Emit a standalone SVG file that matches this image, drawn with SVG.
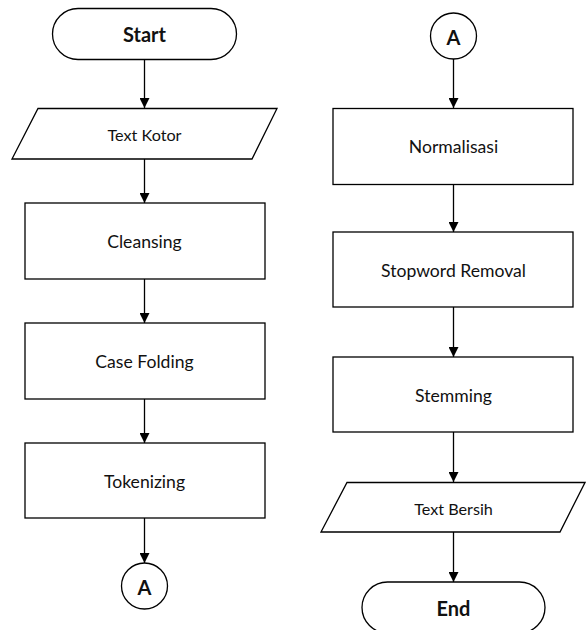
<svg xmlns="http://www.w3.org/2000/svg" width="586" height="630" viewBox="0 0 586 630">
<defs>
<marker id="arr" viewBox="0 0 10 10" refX="10" refY="5" markerWidth="10" markerHeight="10" markerUnits="userSpaceOnUse" orient="auto">
<path d="M0,0 L10,5 L0,10 Z" fill="#000"/>
</marker>
<style>
.s{fill:#fff;stroke:#000;stroke-width:1.3}
.t{font-family:Lato,"Open Sans","Liberation Sans",sans-serif;font-size:17.6px;fill:#111;text-anchor:middle;dominant-baseline:central}
.ts{font-size:16.2px}
.b{font-weight:bold;font-size:20px}
.c{stroke:#000;stroke-width:1.3;fill:none;marker-end:url(#arr)}
</style>
</defs>
<rect width="586" height="630" fill="#fff"/>
<g id="connectors">
<line class="c" x1="144.5" y1="59" x2="144.5" y2="108"/>
<line class="c" x1="144.5" y1="159" x2="144.5" y2="203"/>
<line class="c" x1="144.5" y1="279" x2="144.5" y2="323"/>
<line class="c" x1="144.5" y1="399" x2="144.5" y2="443"/>
<line class="c" x1="144.5" y1="518" x2="144.5" y2="563"/>
<line class="c" x1="453.5" y1="59" x2="453.5" y2="108"/>
<line class="c" x1="453.5" y1="185" x2="453.5" y2="232"/>
<line class="c" x1="453.5" y1="307" x2="453.5" y2="357"/>
<line class="c" x1="453.5" y1="432" x2="453.5" y2="482"/>
<line class="c" x1="453.5" y1="532" x2="453.5" y2="582"/>
</g>
<g id="start">
<rect class="s" x="52.5" y="8.5" width="184" height="51" rx="25.5"/>
<text class="t b" x="144.5" y="34">Start</text>
</g>
<g id="text-kotor">
<polygon class="s" points="38,108.5 277,108.5 252,159 12,159"/>
<text class="t ts" x="144.5" y="134">Text Kotor</text>
</g>
<g id="cleansing">
<rect class="s" x="25" y="203" width="240" height="76"/>
<text class="t" x="144.5" y="241">Cleansing</text>
</g>
<g id="case-folding">
<rect class="s" x="25" y="323" width="240" height="76"/>
<text class="t" x="144.5" y="361">Case Folding</text>
</g>
<g id="tokenizing">
<rect class="s" x="25" y="443" width="240" height="75"/>
<text class="t" x="144.5" y="481">Tokenizing</text>
</g>
<g id="connector-a-out">
<circle class="s" cx="144.5" cy="586" r="23"/>
<text class="t b" x="144.5" y="587">A</text>
</g>
<g id="connector-a-in">
<circle class="s" cx="453.5" cy="36" r="23"/>
<text class="t b" x="453.5" y="37">A</text>
</g>
<g id="normalisasi">
<rect class="s" x="333" y="108.5" width="240" height="76"/>
<text class="t" x="453.5" y="146">Normalisasi</text>
</g>
<g id="stopword-removal">
<rect class="s" x="333" y="232" width="240" height="75"/>
<text class="t" x="453.5" y="270">Stopword Removal</text>
</g>
<g id="stemming">
<rect class="s" x="333" y="357" width="240" height="75"/>
<text class="t" x="453.5" y="395">Stemming</text>
</g>
<g id="text-bersih">
<polygon class="s" points="347,482.5 585,482.5 560,532 321,532"/>
<text class="t ts" x="453.5" y="508">Text Bersih</text>
</g>
<g id="end">
<rect class="s" x="362" y="582" width="183" height="51" rx="25.5"/>
<text class="t b" x="453.5" y="608">End</text>
</g>
</svg>
